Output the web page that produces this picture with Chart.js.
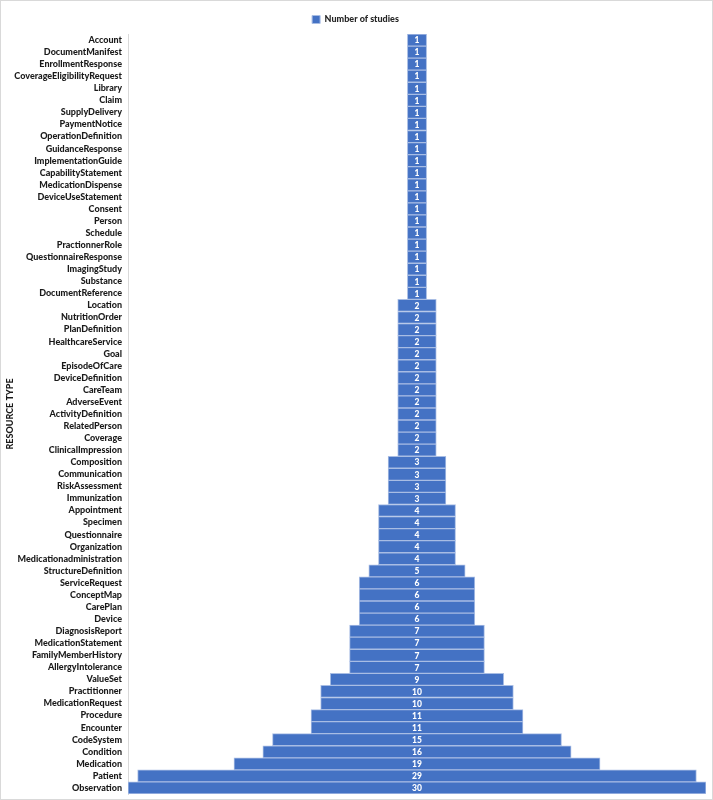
<!DOCTYPE html>
<html><head><meta charset="utf-8">
<script src="https://cdn.jsdelivr.net/npm/chart.js@4"></script>
<style>
html,body{margin:0;padding:0;background:#fff;}
#wrap{width:713px;height:800px;box-sizing:border-box;border:1px solid #d9d9d9;position:relative;}
</style></head>
<body><div id="wrap"><canvas id="c" width="711" height="798"></canvas></div>
<script>
const categories = ["Account","DocumentManifest","EnrollmentResponse","CoverageEligibilityRequest","Library","Claim","SupplyDelivery","PaymentNotice","OperationDefinition","GuidanceResponse","ImplementationGuide","CapabilityStatement","MedicationDispense","DeviceUseStatement","Consent","Person","Schedule","PractionnerRole","QuestionnaireResponse","ImagingStudy","Substance","DocumentReference","Location","NutritionOrder","PlanDefinition","HealthcareService","Goal","EpisodeOfCare","DeviceDefinition","CareTeam","AdverseEvent","ActivityDefinition","RelatedPerson","Coverage","ClinicalImpression","Composition","Communication","RiskAssessment","Immunization","Appointment","Specimen","Questionnaire","Organization","Medicationadministration","StructureDefinition","ServiceRequest","ConceptMap","CarePlan","Device","DiagnosisReport","MedicationStatement","FamilyMemberHistory","AllergyIntolerance","ValueSet","Practitionner","MedicationRequest","Procedure","Encounter","CodeSystem","Condition","Medication","Patient","Observation"];
const studies = [1,1,1,1,1,1,1,1,1,1,1,1,1,1,1,1,1,1,1,1,1,1,2,2,2,2,2,2,2,2,2,2,2,2,2,3,3,3,3,4,4,4,4,4,5,6,6,6,6,7,7,7,7,9,10,10,11,11,15,16,19,29,30];
const seriesName = "Number of studies";
const axisTitle = "RESOURCE TYPE";

const FONT = "Lato, 'Open Sans', sans-serif";
const valueLabels = {
  id: 'valueLabels',
  afterDatasetsDraw(chart) {
    const ctx = chart.ctx;
    const meta = chart.getDatasetMeta(0);
    ctx.save();
    ctx.fillStyle = '#ffffff';
    ctx.font = "900 8.5px " + FONT;
    ctx.textAlign = 'center';
    ctx.textBaseline = 'middle';
    meta.data.forEach((bar, i) => {
      const p = bar.getProps(['x','base','y'], true);
      ctx.fillText(String(studies[i]), (p.x + p.base) / 2, p.y + 0.5);
    });
    ctx.restore();
  }
};

new Chart(document.getElementById('c'), {
  type: 'bar',
  data: {
    labels: categories,
    datasets: [{
      label: seriesName,
      data: studies.map(v => [-v / 2, v / 2]),
      backgroundColor: '#4472C4',
      borderColor: '#a8bde4',
      borderWidth: 1,
      borderSkipped: false,
      barPercentage: 1,
      categoryPercentage: 1
    }]
  },
  options: {
    indexAxis: 'y',
    responsive: false,
    animation: false,
    layout: { padding: { left: 4, right: 6, top: 0, bottom: 5 } },
    plugins: {
      legend: {
        display: true,
        position: 'top',
        labels: { boxWidth: 8, boxHeight: 8, color: '#262626', font: { family: FONT, size: 9, weight: '900' }, padding: 14 }
      },
      tooltip: { enabled: false }
    },
    scales: {
      x: { display: false, min: -15, max: 15 },
      y: {
        grid: { display: false, drawTicks: false },
        border: { display: true, color: '#d9d9d9' },
        ticks: { color: '#1a1a1a', font: { family: FONT, size: 9, weight: '900' }, padding: 6, autoSkip: false },
        title: { display: true, text: axisTitle, color: '#1a1a1a', font: { family: FONT, size: 9, weight: '900' }, padding: 0 },
        afterFit(s) { s.width = 123; s.paddingTop = 0; s.paddingBottom = 0; }
      }
    }
  },
  plugins: [valueLabels]
});
</script></body></html>
